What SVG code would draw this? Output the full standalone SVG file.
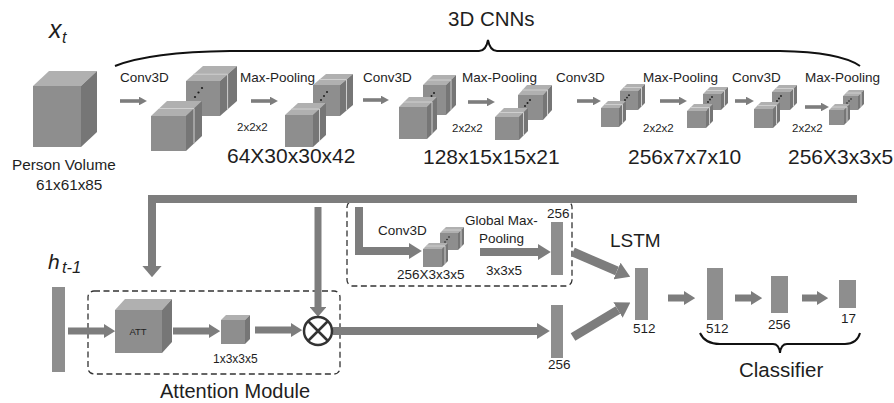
<svg xmlns="http://www.w3.org/2000/svg" width="894" height="403" viewBox="0 0 894 403">
<defs>
<style>
text{font-family:"Liberation Sans",Arial,sans-serif;fill:#1e1e1e}
.ft{fill:#8e8e8e}
.tp{fill:#b0b0b0}
.sd{fill:#767676}
.sl{stroke:#cfcfcf;stroke-width:1;fill:none}
.dot{fill:#1e1e1e}
.bar{fill:#8e8e8e}
.lbl{font-size:13.5px}
.sm{font-size:11.5px}
.dim{font-size:21px}
.big{font-size:20.5px}
.it{font-style:italic}
.ar{fill:none;stroke:#7d7d7d;stroke-linejoin:miter}
.dash{fill:none;stroke:#333;stroke-width:1.3;stroke-dasharray:6 3.5}
.brace{fill:none;stroke:#111;stroke-width:2}
</style>
<marker id="t" viewBox="0 0 22 24" refX="0" refY="12" markerWidth="2.2" markerHeight="2.4" orient="auto" markerUnits="strokeWidth"><path d="M0,0 L22,12 L0,24 z" fill="#7d7d7d"/></marker>
<marker id="m" viewBox="0 0 16 20" refX="0" refY="10" markerWidth="1.6" markerHeight="2" orient="auto" markerUnits="strokeWidth"><path d="M0,0 L16,10 L0,20 z" fill="#7d7d7d"/></marker>
<marker id="b" viewBox="0 0 14 24" refX="0" refY="12" markerWidth="1.4" markerHeight="2.4" orient="auto" markerUnits="strokeWidth"><path d="M0,0 L14,12 L0,24 z" fill="#7d7d7d"/></marker>
</defs>
<rect width="894" height="403" fill="#fff"/>

<g id="title">
<text x="49" y="38" class="it" style="font-size:25px">x</text>
<text x="62" y="43" class="it" style="font-size:16px">t</text>
<text x="448" y="26" class="big">3D CNNs</text>
<path class="brace" d="M115,66 Q150,52 230,51 L479,51 Q486,51 488,40 Q490,51 497,51 L780,51 Q840,52 860,66"/>
</g>

<g id="person-volume">
<polygon class="tp" points="33,86 49,71 97,71 81,86"/>
<polygon class="sd" points="81,86 97,71 97,132 81,147"/>
<rect class="ft" x="33" y="86" width="48" height="61"/>
<text x="12" y="170" style="font-size:15.3px">Person Volume</text>
<text x="36" y="190" style="font-size:15.3px">61x61x85</text>
</g>

<g id="conv1">
<polygon class="tp" points="186,81 203,66 237,66 220,81"/>
<polygon class="sd" points="220,81 237,66 237,101 220,116"/>
<rect class="ft" x="186" y="81" width="34" height="35"/>
<path class="sl" d="M193.6,74.2 H227.6 V109.2"/>
<circle class="dot" cx="195" cy="97" r="1.1"/><circle class="dot" cx="198.5" cy="92.5" r="1.1"/><circle class="dot" cx="202" cy="88" r="1.1"/>
<polygon class="tp" points="151,116 167,101 202,101 186,116"/>
<polygon class="sd" points="186,116 202,101 202,136 186,151"/>
<rect class="ft" x="151" y="116" width="35" height="35"/>
<path class="sl" d="M159,108.5 H194 V143.5"/>
<text x="120" y="82" class="lbl">Conv3D</text>
</g>

<g id="pool1">
<polygon class="tp" points="313,85 326,74 353,74 340,85"/>
<polygon class="sd" points="340,85 353,74 353,105 340,116"/>
<rect class="ft" x="313" y="85" width="27" height="31"/>
<path class="sl" d="M319.5,79.5 H346.5 V110.5"/>
<circle class="dot" cx="321" cy="100" r="1"/><circle class="dot" cx="324" cy="96" r="1"/><circle class="dot" cx="327" cy="92" r="1"/>
<polygon class="tp" points="285,115 298,103 326,103 313,115"/>
<polygon class="sd" points="313,115 326,103 326,135 313,147"/>
<rect class="ft" x="285" y="115" width="28" height="32"/>
<path class="sl" d="M291.5,109 H319.5 V141"/>
<text x="240" y="82" class="lbl">Max-Pooling</text>
<text x="237" y="131" class="sm">2x2x2</text>
<text x="227" y="163" class="dim">64X30x30x42</text>
</g>

<g id="conv2">
<polygon class="tp" points="423,85 433,75 456,75 446,85"/>
<polygon class="sd" points="446,85 456,75 456,105 446,115"/>
<rect class="ft" x="423" y="85" width="23" height="30"/>
<path class="sl" d="M428,80 H451 V110"/>
<circle class="dot" cx="429" cy="99" r="1"/><circle class="dot" cx="431.5" cy="96" r="1"/><circle class="dot" cx="434" cy="93" r="1"/>
<polygon class="tp" points="399,107 409,97 437,97 427,107"/>
<polygon class="sd" points="427,107 437,97 437,129 427,139"/>
<rect class="ft" x="399" y="107" width="28" height="32"/>
<path class="sl" d="M404,102 H432 V134"/>
<text x="363" y="82" class="lbl">Conv3D</text>
</g>

<g id="pool2">
<polygon class="tp" points="518,95 527,85 552,85 543,95"/>
<polygon class="sd" points="543,95 552,85 552,110 543,120"/>
<rect class="ft" x="518" y="95" width="25" height="25"/>
<path class="sl" d="M522.5,90 H547.5 V115"/>
<circle class="dot" cx="525" cy="106" r="1"/><circle class="dot" cx="527.5" cy="103" r="1"/><circle class="dot" cx="530" cy="100" r="1"/>
<polygon class="tp" points="495,117 504,108 528,108 519,117"/>
<polygon class="sd" points="519,117 528,108 528,131 519,140"/>
<rect class="ft" x="495" y="117" width="24" height="23"/>
<path class="sl" d="M499.5,112.5 H523.5 V135.5"/>
<text x="462" y="82" class="lbl">Max-Pooling</text>
<text x="452" y="132" class="sm">2x2x2</text>
<text x="423" y="164" class="dim">128x15x15x21</text>
</g>

<g id="conv3">
<polygon class="tp" points="620,91 627,84 645,84 638,91"/>
<polygon class="sd" points="638,91 645,84 645,103 638,110"/>
<rect class="ft" x="620" y="91" width="18" height="19"/>
<path class="sl" d="M623.5,87.5 H641.5 V106.5"/>
<circle class="dot" cx="625" cy="100" r="0.9"/><circle class="dot" cx="627" cy="97.6" r="0.9"/><circle class="dot" cx="629" cy="95.2" r="0.9"/>
<polygon class="tp" points="601,108 608,101 626,101 619,108"/>
<polygon class="sd" points="619,108 626,101 626,120 619,127"/>
<rect class="ft" x="601" y="108" width="18" height="19"/>
<path class="sl" d="M604.5,104.5 H622.5 V123.5"/>
<text x="556" y="82" class="lbl">Conv3D</text>
</g>

<g id="pool3">
<polygon class="tp" points="703,94 710,87 728,87 721,94"/>
<polygon class="sd" points="721,94 728,87 728,103 721,110"/>
<rect class="ft" x="703" y="94" width="18" height="16"/>
<path class="sl" d="M706.5,90.5 H724.5 V106.5"/>
<circle class="dot" cx="708" cy="102" r="0.9"/><circle class="dot" cx="710" cy="99.5" r="0.9"/><circle class="dot" cx="712" cy="97" r="0.9"/>
<polygon class="tp" points="687,111 694,104 713,104 706,111"/>
<polygon class="sd" points="706,111 713,104 713,121 706,128"/>
<rect class="ft" x="687" y="111" width="19" height="17"/>
<path class="sl" d="M690.5,107.5 H709.5 V124.5"/>
<text x="643" y="82" class="lbl">Max-Pooling</text>
<text x="643" y="132" class="sm">2x2x2</text>
<text x="628" y="164" class="dim">256x7x7x10</text>
</g>

<g id="conv4">
<polygon class="tp" points="772,92 779,85 797,85 790,92"/>
<polygon class="sd" points="790,92 797,85 797,103 790,110"/>
<rect class="ft" x="772" y="92" width="18" height="18"/>
<path class="sl" d="M775.5,88.5 H793.5 V106.5"/>
<circle class="dot" cx="777" cy="101" r="0.9"/><circle class="dot" cx="779" cy="98.5" r="0.9"/><circle class="dot" cx="781" cy="96" r="0.9"/>
<polygon class="tp" points="754,109 761,102 780,102 773,109"/>
<polygon class="sd" points="773,109 780,102 780,121 773,128"/>
<rect class="ft" x="754" y="109" width="19" height="19"/>
<path class="sl" d="M757.5,105.5 H776.5 V124.5"/>
<text x="732" y="82" class="lbl">Conv3D</text>
</g>

<g id="pool4">
<polygon class="tp" points="843,96 849,90 864,90 858,96"/>
<polygon class="sd" points="858,96 864,90 864,104 858,110"/>
<rect class="ft" x="843" y="96" width="15" height="14"/>
<path class="sl" d="M846,93 H861 V107"/>
<circle class="dot" cx="847" cy="103" r="0.8"/><circle class="dot" cx="849" cy="101" r="0.8"/><circle class="dot" cx="851" cy="99" r="0.8"/>
<polygon class="tp" points="829,110 835,104 850,104 844,110"/>
<polygon class="sd" points="844,110 850,104 850,119 844,125"/>
<rect class="ft" x="829" y="110" width="15" height="15"/>
<path class="sl" d="M832,107 H847 V122"/>
<text x="805" y="82" class="lbl">Max-Pooling</text>
<text x="792" y="132" class="sm">2x2x2</text>
<text x="788" y="164" class="dim">256X3x3x5</text>
</g>

<g id="global-pool-box">
<rect class="dash" x="347" y="201" width="225" height="85" rx="6"/>
<polygon class="tp" points="440,233 446,227 464,227 458,233"/>
<polygon class="sd" points="458,233 464,227 464,244 458,250"/>
<rect class="ft" x="440" y="233" width="18" height="17"/>
<path class="sl" d="M443,230 H461 V247"/>
<circle class="dot" cx="445" cy="242" r="0.8"/><circle class="dot" cx="447" cy="239.5" r="0.8"/><circle class="dot" cx="449" cy="237" r="0.8"/>
<polygon class="tp" points="423,249 429,243 448,243 442,249"/>
<polygon class="sd" points="442,249 448,243 448,261 442,267"/>
<rect class="ft" x="423" y="249" width="19" height="18"/>
<path class="sl" d="M426,246 H445 V264"/>
<text x="378" y="235" class="lbl">Conv3D</text>
<text x="397" y="279" class="lbl">256X3x3x5</text>
<text x="465" y="225" class="lbl">Global Max-</text>
<text x="479" y="243" class="lbl">Pooling</text>
<text x="486" y="275" class="lbl">3x3x5</text>
<rect class="bar" x="551" y="222" width="12" height="53"/>
<text x="547" y="218" class="lbl">256</text>
</g>

<g id="attention-module">
<rect class="dash" x="88" y="291" width="252" height="83" rx="6"/>
<polygon class="tp" points="115,310 125,299 172,299 162,310"/>
<polygon class="sd" points="162,310 172,299 172,342 162,353"/>
<rect class="ft" x="115" y="310" width="47" height="43"/>
<text x="138" y="335" text-anchor="middle" style="font-size:9.5px">ATT</text>
<polygon class="tp" points="221,320 226,315 250,315 245,320"/>
<polygon class="sd" points="245,320 250,315 250,339 245,344"/>
<rect class="ft" x="221" y="320" width="24" height="24"/>
<text x="213" y="363" style="font-size:12px">1x3x3x5</text>
<text x="160" y="398" style="font-size:20px">Attention Module</text>
</g>

<g id="h-prev">
<rect class="bar" x="52" y="287" width="13" height="85"/>
<text x="48" y="269" class="it" style="font-size:21px">h</text>
<text x="62" y="273" class="it" style="font-size:16.5px">t-1</text>
</g>

<g id="feat-256">
<rect class="bar" x="551" y="305" width="12" height="53"/>
<text x="548" y="369" class="lbl">256</text>
</g>

<g id="lstm">
<rect class="bar" x="635" y="268" width="13" height="52"/>
<text x="633" y="333" class="lbl">512</text>
<text x="610" y="247" style="font-size:19px">LSTM</text>
</g>

<g id="classifier">
<rect class="bar" x="707" y="268" width="16" height="52"/>
<text x="706" y="333" class="lbl">512</text>
<rect class="bar" x="771" y="276" width="17" height="37"/>
<text x="768" y="329" class="lbl">256</text>
<rect class="bar" x="839" y="280" width="17" height="28"/>
<text x="841" y="323" class="lbl">17</text>
<path class="brace" d="M700,333 Q705,344 720,344 L773,344 Q779,344 780,353 Q781,344 787,344 L845,344 Q857,344 860,333"/>
<text x="739" y="377" style="font-size:20.5px">Classifier</text>
</g>

<g id="connectors">
<g class="ar" stroke-width="3.6">
<path d="M120,101 H139" marker-end="url(#t)"/>
<path d="M251,101 H270" marker-end="url(#t)"/>
<path d="M363,100 H381" marker-end="url(#t)"/>
<path d="M468,102 H487" marker-end="url(#t)"/>
<path d="M577,101 H593" marker-end="url(#t)"/>
<path d="M660,101 H679" marker-end="url(#t)"/>
<path d="M735,101 H746" marker-end="url(#t)"/>
<path d="M805,107 H821" marker-end="url(#t)"/>
</g>
<path class="ar" stroke-width="8" d="M857,199 H152 V266" marker-end="url(#b)"/>
<path class="ar" stroke-width="7" d="M318,207 V307" marker-end="url(#b)"/>
<path class="ar" stroke-width="8" d="M359,207 V251 H409" marker-end="url(#m)"/>
<path class="ar" stroke-width="8" d="M480,252 H538" marker-end="url(#m)"/>
<path class="ar" stroke-width="8" d="M333,331 H537" marker-end="url(#m)"/>
<path class="ar" stroke-width="9" d="M573,252 L617,271" marker-end="url(#m)"/>
<path class="ar" stroke-width="9" d="M573,337 L618,310" marker-end="url(#m)"/>
<path class="ar" stroke-width="7" d="M68,331 H104" marker-end="url(#m)"/>
<path class="ar" stroke-width="7" d="M173,331 H209" marker-end="url(#m)"/>
<path class="ar" stroke-width="7" d="M255,330 H291" marker-end="url(#m)"/>
<path class="ar" stroke-width="7" d="M668,298 H684" marker-end="url(#m)"/>
<path class="ar" stroke-width="7" d="M735,298 H751" marker-end="url(#m)"/>
<path class="ar" stroke-width="7" d="M802,298 H817" marker-end="url(#m)"/>
</g>

<g id="multiply">
<circle cx="318" cy="331" r="14" fill="#fff" stroke="#333" stroke-width="2.5"/>
<path d="M308,321 L328,341 M328,321 L308,341" stroke="#333" stroke-width="2.5"/>
</g>
</svg>
